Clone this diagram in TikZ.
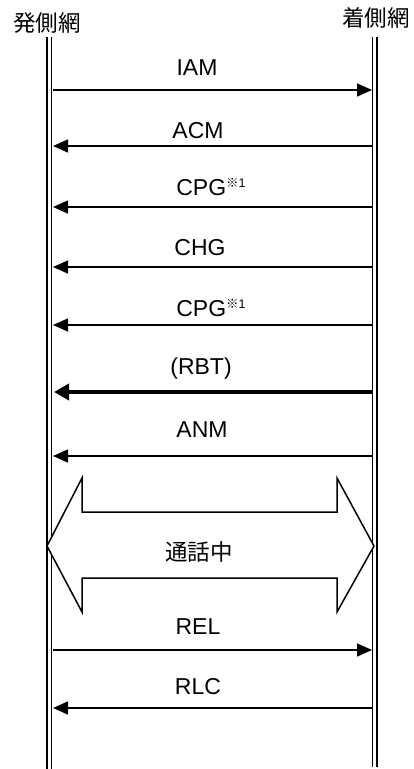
\documentclass[tikz,border=0pt]{standalone}
\usepackage{fontspec}
\setmainfont{Liberation Sans}
\newfontfamily\jp{Noto Sans CJK JP}
\usetikzlibrary{arrows.meta}
\tikzset{
  life/.style={line width=1.5pt},
  msg/.style={line width=1.5pt,-{Triangle[length=15pt,width=13pt]}},
  thickmsg/.style={line width=4pt,-{Triangle[length=15pt,width=16pt]}},
  lbl/.style={font=\fontsize{23}{26}\selectfont,inner sep=0pt},
  hdr/.style={font=\jp\fontsize{22.5}{26}\selectfont,inner sep=0pt},
}
\newcommand{\supnote}{\raisebox{8pt}{\fontsize{12.5}{12.5}\selectfont{\jp ※}1}}
\begin{document}
\begin{tikzpicture}[x=1pt,y=-1pt]
\useasboundingbox (0,0) rectangle (414,769);
% headers
\node[hdr] (src) at (47,23) {発側網};
\node[hdr] (dst) at (376,18) {着側網};
% lifelines
\coordinate (l1t) at (47,37); \coordinate (l1b) at (47,769);
\coordinate (l2t) at (51.5,37); \coordinate (l2b) at (51.5,769);
\coordinate (r1t) at (372.5,37); \coordinate (r1b) at (372.5,767);
\coordinate (r2t) at (377,37); \coordinate (r2b) at (377,767);
\draw[life] (l1t) -- (l1b);
\draw[life] (l2t) -- (l2b);
\draw[life] (r1t) -- (r1b);
\draw[life] (r2t) -- (r2b);
% messages
\foreach \name/\ly/\ay/\dir/\txt/\lx in {
  iam/68/90/r/IAM/197,
  acm/131/146/l/ACM/198,
  chg/248/267/l/CHG/200,
  anm/430/456/l/ANM/202,
  rel/627/650/r/REL/198,
  rlc/687/708/l/RLC/198}{
  \node[lbl] (\name) at (\lx,\ly) {\txt};
  \coordinate (\name L) at (53,\ay);
  \coordinate (\name R) at (372,\ay);
}
\draw[msg] (iamL) -- (iamR);
\draw[msg] (acmR) -- (acmL);
\draw[msg] (chgR) -- (chgL);
\draw[msg] (anmR) -- (anmL);
\draw[msg] (relL) -- (relR);
\draw[msg] (rlcR) -- (rlcL);
% CPG
\node[lbl] (cpga) at (211,187) {CPG\supnote};
\coordinate (cpgaR) at (372,207); \coordinate (cpgaL) at (53,207);
\draw[msg] (cpgaR) -- (cpgaL);
\node[lbl] (cpgb) at (211,308) {CPG\supnote};
\coordinate (cpgbR) at (372,325); \coordinate (cpgbL) at (53,325);
\draw[msg] (cpgbR) -- (cpgbL);
% RBT
\node[lbl] (rbt) at (201,369) {(RBT)};
\coordinate (rbtR) at (373,392); \coordinate (rbtL) at (54,392);
\draw[thickmsg] (rbtR) -- (rbtL);
% talking double arrow
\draw[line width=1.5pt,fill=white,line join=miter]
  (47,546) -- (82,478) -- (82,512) -- (337,512) -- (337,478) -- (374,546)
  -- (337,612) -- (337,578) -- (82,578) -- (82,612) -- cycle;
\node[hdr] (talk) at (199,552) {通話中};
\end{tikzpicture}
\end{document}
